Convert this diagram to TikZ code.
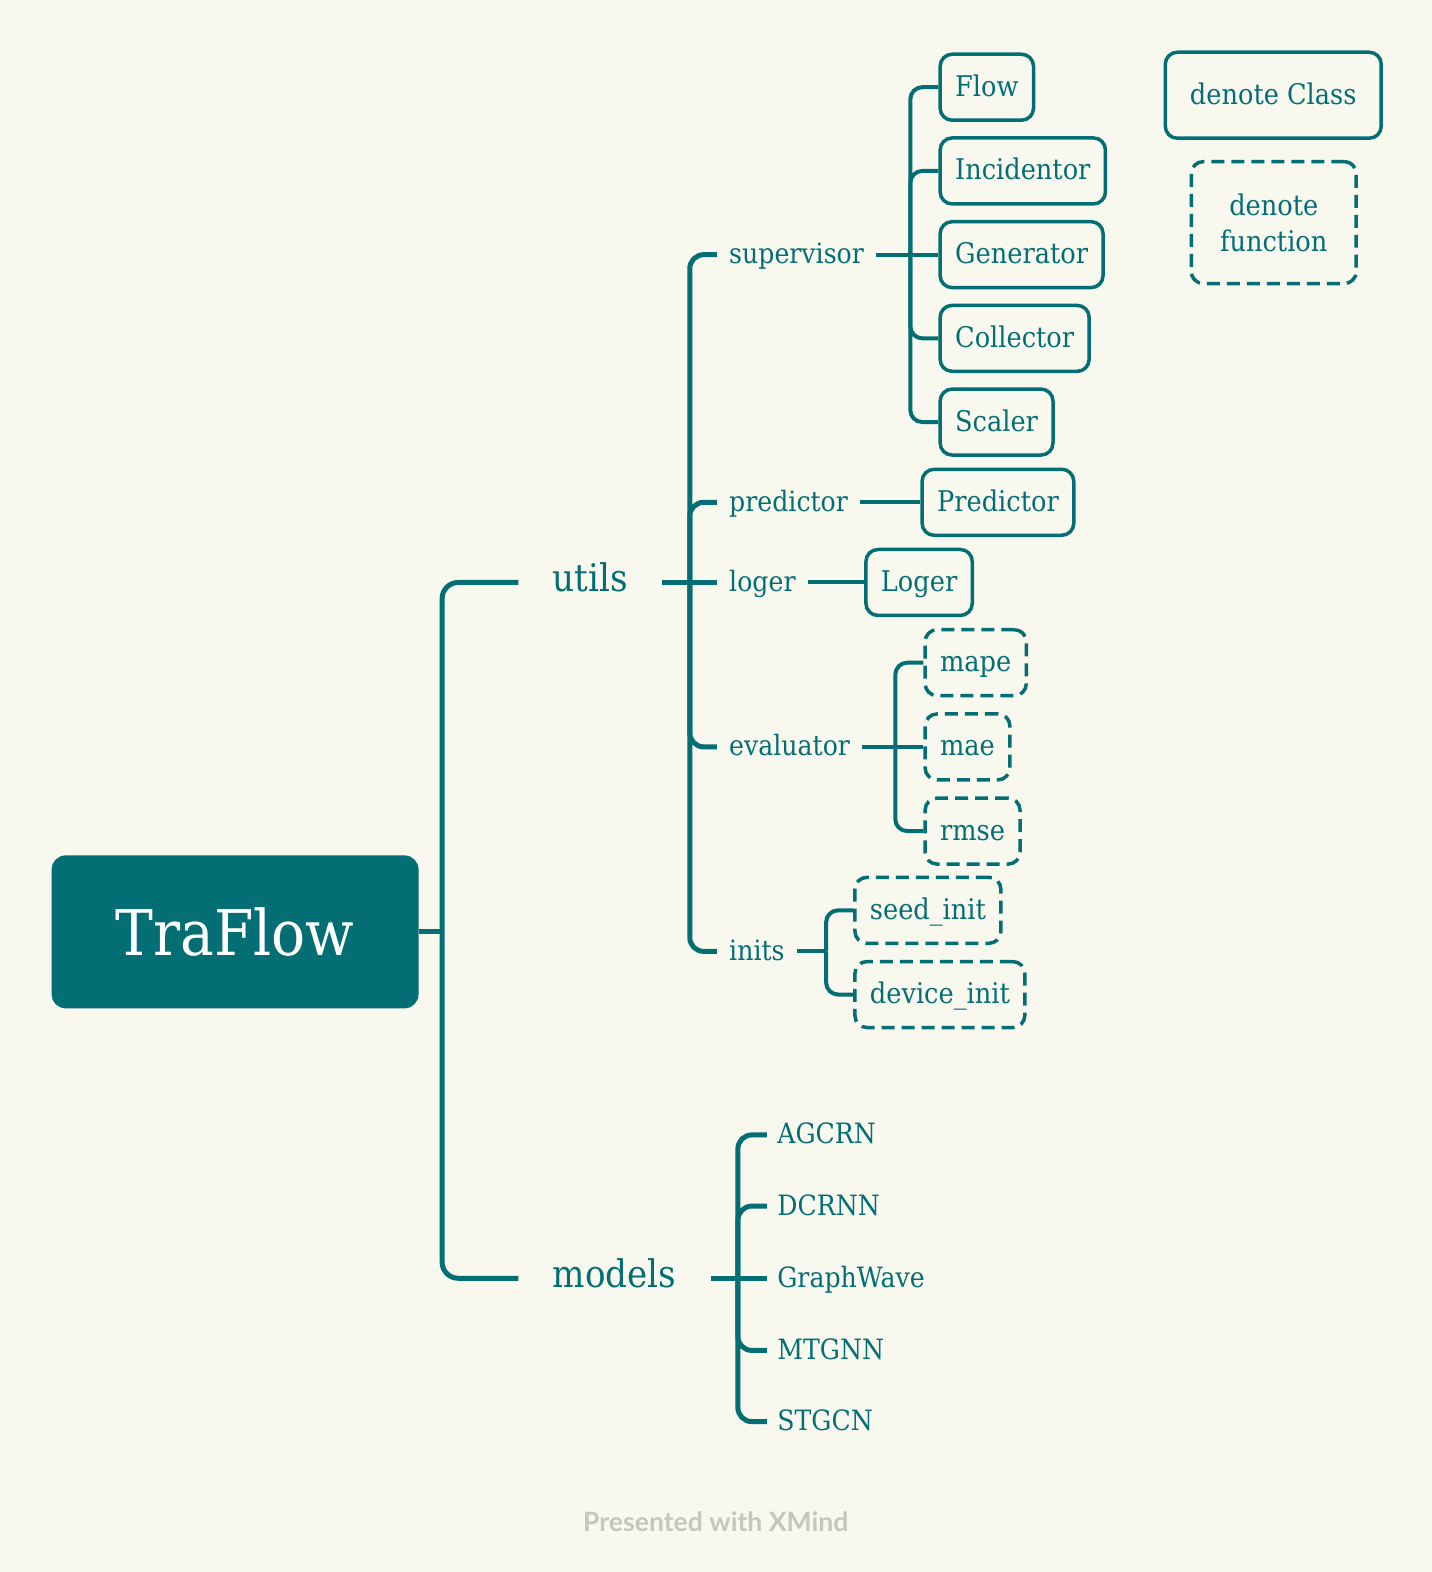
\documentclass[tikz,border=0pt]{standalone}
\usepackage{fontspec}
\setmainfont{DejaVu Serif}[FakeStretch=0.9]
\newfontfamily\markfont{Lato}
\definecolor{xteal}{RGB}{3,111,117}
\definecolor{paper}{RGB}{249,248,238}
\definecolor{markgray}{RGB}{198,198,190}
\begin{document}
\begin{tikzpicture}[x=0.5014pt,y=-0.5014pt,
    central/.style={fill=xteal,rounded corners=7pt,text=white,minimum width=183.5pt,minimum height=76.5pt,font=\fontsize{31.5}{36}\selectfont},
    topic/.style={anchor=west,text=xteal,inner xsep=17pt,inner ysep=0pt,text height=1.1em,text depth=.2em,font=\fontsize{19}{22}\selectfont},
    subtopic/.style={anchor=west,text=xteal,inner xsep=6pt,inner ysep=0pt,text height=1.1em,text depth=.2em,font=\fontsize{14}{17}\selectfont},
    model/.style={subtopic,inner xsep=5pt,font=\fontsize{14}{17}\selectfont},
    cls/.style={anchor=west,draw=xteal,line width=1.75pt,rounded corners=6pt,text=xteal,inner xsep=7.5pt,inner ysep=0pt,minimum height=33pt,text height=1.1em,text depth=.2em,font=\fontsize{14.25}{17}\selectfont},
    fn/.style={cls,dash pattern=on 6.5pt off 3.5pt},
    trunk/.style={draw=xteal,line width=2.5pt,rounded corners=8pt},
    twig/.style={draw=xteal,line width=2pt,rounded corners=6pt}]
    \fill[paper] (0,0) rectangle (1428,1568);
    \useasboundingbox (0,0) rectangle (1428,1568);

    % root and main topics
    \node[central] (traflow) at (234.5,929.5) {TraFlow};
    \node[topic] (utils) at (517,581) {utils};
    \node[topic] (models) at (517,1275) {models};

    % utils children
    \node[subtopic] (supervisor) at (715,254) {supervisor};
    \node[subtopic] (predictor) at (715,501) {predictor};
    \node[subtopic] (loger) at (715,581) {loger};
    \node[subtopic] (evaluator) at (715,745) {evaluator};
    \node[subtopic] (inits) at (715,949) {inits};

    \node[cls] (flow) at (936,87) {Flow};
    \node[cls] (incidentor) at (936,170.5) {Incidentor};
    \node[cls] (generator) at (936,254) {Generator};
    \node[cls] (collector) at (936,337.5) {Collector};
    \node[cls] (scaler) at (936,421) {Scaler};
    \node[cls] (predictorcls) at (918,501) {Predictor};
    \node[cls] (logercls) at (862,581) {Loger};
    \node[fn] (mape) at (921,661) {mape};
    \node[fn] (mae) at (921,745) {mae};
    \node[fn] (rmse) at (921,829) {rmse};
    \node[fn] (seedinit) at (851,908) {seed\_init};
    \node[fn] (deviceinit) at (851,992) {device\_init};

    % models children
    \node[model] (agcrn) at (765,1132) {AGCRN};
    \node[model] (dcrnn) at (765,1203) {DCRNN};
    \node[model] (graphwave) at (765,1275) {GraphWave};
    \node[model] (mtgnn) at (765,1347) {MTGNN};
    \node[model] (stgcn) at (765,1418) {STGCN};

    % legend
    \node[cls,anchor=center,minimum width=108pt,minimum height=43pt] (legcls) at (1270,95) {denote Class};
    \node[fn,anchor=center,minimum width=82.5pt,minimum height=61pt,align=center,text height=,text depth=,font=\fontsize{14.25}{18}\selectfont] (legfn) at (1270.5,222) {denote\\function};

    \node[text=markgray,font=\markfont\bfseries\fontsize{13.3}{16}\selectfont] (mark) at (714,1518) {Presented with XMind};

    % junctions
    \coordinate (j0) at (441,929.5);
    \coordinate (j1) at (688,581);
    \coordinate (j2) at (908,254);
    \coordinate (j3) at (893,745);
    \coordinate (j4) at (824,949);
    \coordinate (j5) at (736,1275);

    \draw[trunk] (traflow.east) -- (j0);
    \draw[trunk] (j0) |- (utils.west);
    \draw[trunk] (j0) |- (models.west);

    \draw[trunk] (utils.east) -- (loger.west);
    \foreach \n in {supervisor,predictor,evaluator,inits}
        \draw[trunk,rounded corners=7pt] (j1) |- (\n.west);

    \draw[twig] (supervisor.east) -- (generator.west);
    \foreach \n in {flow,incidentor,collector,scaler}
        \draw[twig] (j2) |- (\n.west);
    \draw[twig] (predictor.east) -- (predictorcls.west);
    \draw[twig] (loger.east) -- (logercls.west);
    \draw[twig] (evaluator.east) -- (mae.west);
    \foreach \n in {mape,rmse}
        \draw[twig] (j3) |- (\n.west);
    \draw[twig] (inits.east) -- (j4);
    \foreach \n in {seedinit,deviceinit}
        \draw[twig] (j4) |- (\n.west);

    \draw[trunk] (models.east) -- (graphwave.west);
    \foreach \n in {agcrn,dcrnn,mtgnn,stgcn}
        \draw[trunk,rounded corners=7pt] (j5) |- (\n.west);
\end{tikzpicture}
\end{document}
